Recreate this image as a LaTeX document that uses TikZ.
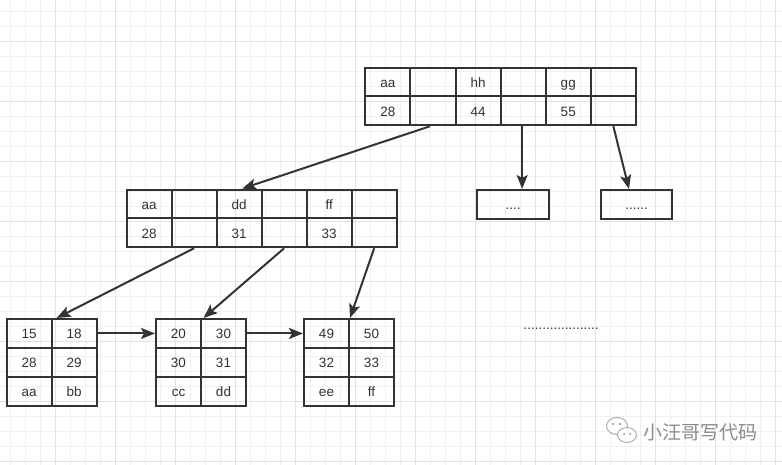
\documentclass[tikz,border=0pt]{standalone}
\usepackage{fontspec}
\setmainfont{Liberation Sans}
\newfontfamily\cjk{Noto Sans CJK SC}
\usetikzlibrary{arrows.meta,calc}
\definecolor{ink}{HTML}{333333}
\definecolor{gminor}{HTML}{F0F0F0}
\definecolor{gmajor}{HTML}{E2E2E2}
\definecolor{wm}{HTML}{8C8C8C}
\begin{document}
\begin{tikzpicture}[x=1pt,y=-1pt,
  cell/.style={draw=ink, line width=2pt, inner sep=0pt, text=ink,
    text height=10.5pt, text depth=0pt,
    font=\fontsize{13.5}{15}\selectfont},
  tcell/.style={cell, minimum width=45.1pt, minimum height=28.85pt},
  mcell/.style={cell, minimum width=45pt, minimum height=28.8pt},
  lcell/.style={cell, minimum width=45pt, minimum height=28.9pt},
  pbox/.style={cell, minimum width=71.7pt, minimum height=29pt},
  arr/.style={draw=ink, line width=2pt, -{Stealth[length=14pt,width=11pt,inset=3pt]}},
  minorline/.style={draw=gminor, line width=1pt},
  majorline/.style={draw=gmajor, line width=1pt}]
\useasboundingbox (0,0) rectangle (782,465);
\fill[white] (0,0) rectangle (782,465);
% grid
\foreach \x in {10,25,...,780} \draw[minorline] (\x,0) -- (\x,465);
\foreach \y in {11.7,26.7,...,465} \draw[minorline] (0,\y) -- (782,\y);
\foreach \x in {55,115,...,780} \draw[majorline] (\x,0) -- (\x,465);
\foreach \y in {41.7,101.7,...,465} \draw[majorline] (0,\y) -- (782,\y);
% top record
\foreach \t [count=\i] in {aa,{},hh,{},gg,{}}
  \node[tcell] (t1\i) at (365.3+45.1*\i-22.55, 82) {\t};
\foreach \t [count=\i] in {28,{},44,{},55,{}}
  \node[tcell] (t2\i) at (365.3+45.1*\i-22.55, 110.85) {\t};
% middle record
\foreach \t [count=\i] in {aa,{},dd,{},ff,{}}
  \node[mcell] (m1\i) at (126.7+45*\i-22.5, 204) {\t};
\foreach \t [count=\i] in {28,{},31,{},33,{}}
  \node[mcell] (m2\i) at (126.7+45*\i-22.5, 232.8) {\t};
% placeholder boxes
\node[pbox] (p1) at (513.2, 204.5) {....};
\node[pbox] (p2) at (636.5, 204.5) {......};
% leaves
\foreach \a/\b [count=\r] in {15/18,28/29,aa/bb}{
  \node[lcell] (a\r1) at (29.2, 304.55+28.9*\r) {\a};
  \node[lcell] (a\r2) at (74.2, 304.55+28.9*\r) {\b};
}
\foreach \a/\b [count=\r] in {20/30,30/31,cc/dd}{
  \node[lcell] (b\r1) at (178.5, 304.55+28.9*\r) {\a};
  \node[lcell] (b\r2) at (223.5, 304.55+28.9*\r) {\b};
}
\foreach \a/\b [count=\r] in {49/50,32/33,ee/ff}{
  \node[lcell] (c\r1) at (326.5, 304.55+28.9*\r) {\a};
  \node[lcell] (c\r2) at (371.5, 304.55+28.9*\r) {\b};
}
\node[text=ink, inner sep=0pt, text height=10.5pt, text depth=0pt, font=\fontsize{13.5}{15}\selectfont] (dots) at (561, 324) {....................};
% arrows
\draw[arr] ([xshift=-3pt]t22.south) -- ([xshift=3pt]m13.north);
\draw[arr] ([xshift=-1pt]t24.south) -- ([xshift=-1pt]t24.south |- p1.north);
\draw[arr] (t26.south) -- ([xshift=-7.5pt]p2.north);
\draw[arr] (m22.south) -- ([xshift=6pt]a12.north west);
\draw[arr] (m24.south) -- ([xshift=3.5pt]b12.north west);
\draw[arr] (m26.south) -- ([xshift=2pt]c12.north west);
\draw[arr] (a12.east) -- (b11.west);
\draw[arr] (b12.east) -- (c11.west);
% watermark
\begin{scope}[draw=wm!70, line width=1pt]
  \draw[fill=white] (617,426) ellipse [x radius=10.5, y radius=8.5];
  \draw[fill=white] (627,435) ellipse [x radius=9.5, y radius=7.5];
  \fill[wm] (613,424) circle (1.1) (620,424) circle (1.1) (624,434) circle (1) (630,434) circle (1);
\end{scope}
\node[text=wm, inner sep=0pt, font=\cjk\fontsize{19}{21}\selectfont] (wmtext) at (700,432) {小汪哥写代码};
\end{tikzpicture}
\end{document}
